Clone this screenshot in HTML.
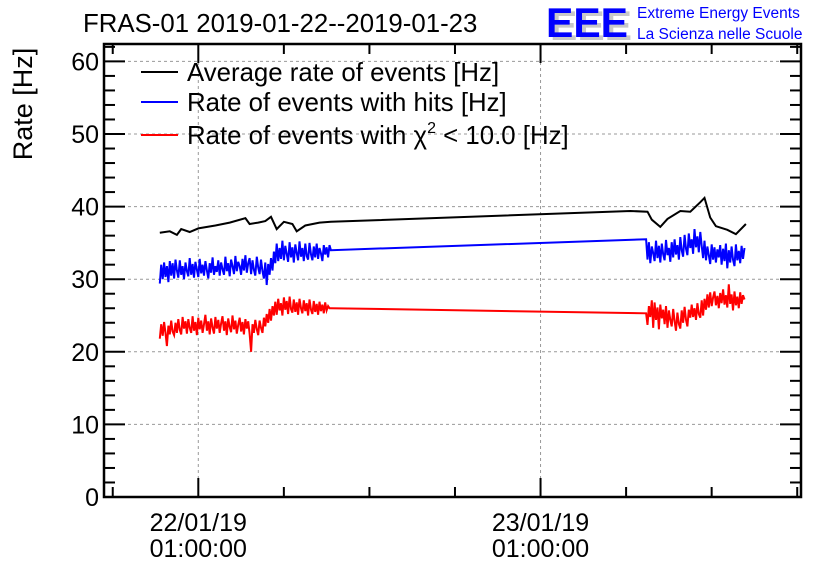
<!DOCTYPE html>
<html><head><meta charset="utf-8"><style>
body{margin:0;background:#fff;}
svg{display:block;font-family:"Liberation Sans",sans-serif;}
</style></head><body>
<svg id="chart" width="836" height="572" viewBox="0 0 836 572">
<rect width="836" height="572" fill="#fff"/>
<text x="83" y="32" font-size="25.8" fill="#000">FRAS-01 2019-01-22--2019-01-23</text>
<g>
<text x="550" y="40" font-size="42" font-weight="bold" fill="#c8c8c8" textLength="82" lengthAdjust="spacingAndGlyphs">EEE</text>
<text x="546" y="37" font-size="42" font-weight="bold" fill="#0000ff" textLength="82" lengthAdjust="spacingAndGlyphs">EEE</text>
<text x="637" y="18" font-size="15.5" fill="#0000ff">Extreme Energy Events</text>
<text x="637" y="39" font-size="15.5" fill="#0000ff">La Scienza nelle Scuole</text>
</g>
<text transform="translate(32,104) rotate(-90)" text-anchor="middle" font-size="27">Rate [Hz]</text>
<g id="grid"></g><g id="series"></g><g id="axes"></g>
<g font-size="25.8">
<line x1="141" y1="72" x2="178" y2="72" stroke="#000" stroke-width="2"/>
<text x="187" y="81">Average rate of events [Hz]</text>
<line x1="141" y1="102" x2="178" y2="102" stroke="#0000ff" stroke-width="2"/>
<text x="187" y="111">Rate of events with hits [Hz]</text>
<line x1="141" y1="135" x2="178" y2="135" stroke="#ff0000" stroke-width="2"/>
<text x="187" y="144">Rate of events with χ<tspan font-size="16" dy="-11">2</tspan><tspan dy="11"> &lt; 10.0 [Hz]</tspan></text>
</g>
</svg>
<script>
const yTicks=[0,10,20,30,40,50,60];
const xTickHours=[0,24];
const xTickDate=["22/01/19","23/01/19"];
const xTickTime=["01:00:00","01:00:00"];
const blackHours=[-2.7,-2.0,-1.5,-1.2,-0.6,0,1.2,2.2,3.3,3.6,4.2,4.7,5.1,5.5,6.0,6.6,6.9,7.5,8.5,9.3,30.3,31.5,31.8,32.4,32.9,33.8,34.5,35.2,35.5,35.9,36.3,37.1,37.7,38.4];
const blackVals=[36.4,36.6,36.1,36.9,36.5,37.0,37.4,37.8,38.4,37.6,37.8,38.0,38.6,36.9,37.9,37.6,36.6,37.4,37.8,37.9,39.4,39.3,38.2,37.2,38.3,39.4,39.3,40.6,41.2,38.5,37.3,36.8,36.2,37.6];
const seg1Start=-2.7, seg2Start=31.5, step=0.1;
const blue1=[29.4,32.0,30.0,32.3,30.3,31.8,29.6,32.5,30.5,32.2,30.1,32.7,31.2,30.2,32.6,30.6,31.8,30.0,32.3,31.1,30.4,32.9,30.6,32.1,30.2,32.4,31.3,30.3,32.8,30.8,32.0,30.5,32.5,31.2,30.1,32.2,30.9,33.0,30.6,31.8,31.0,32.6,30.5,32.3,31.4,30.6,33.1,31.1,32.2,30.4,32.7,31.8,30.7,33.2,31.1,32.4,31.8,30.6,32.8,31.2,33.3,30.9,32.2,32.9,30.7,32.6,31.3,30.5,33.1,31.6,30.7,32.7,31.1,30.1,32.3,29.2,32.1,30.6,32.9,31.2,33.8,32.2,34.9,32.5,34.3,32.8,35.3,32.6,34.6,33.5,32.4,35.1,33.0,34.4,32.3,34.8,33.6,32.6,35.2,33.1,34.3,32.5,34.9,33.2,32.7,35.0,33.4,32.6,34.5,33.0,34.9,32.8,34.3,33.6,32.5,34.7,33.4,34.4,33.0,34.7,34.0];
const blueGapVal=35.5, blueGapHour=31.4;
const blue2=[32.7,35.1,32.2,34.5,33.6,32.5,35.3,32.9,34.6,32.3,34.9,33.4,32.6,35.4,33.3,34.3,32.4,35.1,33.0,35.5,33.4,34.7,32.7,35.8,34.0,33.1,36.1,34.2,33.3,36.3,34.3,35.5,33.5,36.9,34.4,35.9,33.7,36.5,34.6,32.9,35.3,32.6,34.5,33.3,32.1,34.8,32.7,34.4,32.3,34.1,33.0,34.7,32.0,34.2,32.5,34.9,31.5,34.0,32.3,34.5,32.7,31.8,34.8,32.6,33.9,32.2,34.6,32.8,34.3];
const red1=[21.8,23.8,22.2,24.1,22.6,20.8,23.6,22.4,24.3,22.8,22.3,24.0,22.6,24.5,23.0,22.4,24.8,23.2,24.2,22.5,24.5,23.3,22.6,24.9,22.9,24.1,22.3,24.7,23.1,24.3,22.6,23.8,25.1,22.9,24.2,22.4,24.6,23.3,22.5,24.8,23.2,24.4,22.6,23.9,24.9,22.9,24.2,22.3,24.6,23.4,22.7,25.0,23.1,24.3,22.5,23.7,24.7,22.8,24.1,22.4,24.5,23.2,24.2,22.5,20.0,23.8,22.6,24.4,23.1,22.3,24.3,23.3,22.6,24.7,23.5,25.2,24.0,25.9,24.3,26.3,25.0,26.9,25.1,27.3,25.7,26.7,25.0,27.5,25.8,27.0,25.2,27.6,25.9,25.4,27.2,25.5,26.8,25.1,27.3,26.0,25.3,27.1,25.6,26.7,25.0,27.2,25.8,25.2,27.0,25.5,26.6,25.1,26.9,25.6,26.5,25.3,26.8,25.7,26.3,26.0,26.0];
const redGapVal=25.3, redGapHour=31.4;
const red2=[23.7,26.3,24.8,27.1,23.3,26.8,24.4,26.1,23.1,26.5,24.6,25.8,23.8,26.3,23.3,25.7,24.4,23.5,25.9,24.2,22.9,25.4,23.8,23.2,25.7,24.0,26.2,24.4,23.5,25.8,24.7,26.5,24.8,26.0,24.4,26.7,25.2,24.7,27.1,25.0,27.3,25.8,27.9,26.1,28.2,26.3,27.5,28.3,26.4,27.7,26.0,28.1,26.7,28.6,26.5,27.8,26.1,29.3,26.6,27.9,25.7,28.3,26.4,27.6,26.0,28.2,26.6,27.8,27.2];

const L=104,R=801,T=44,B=497;
const yMax=(B-T)/7.26;
function ys(v){return B-v*(B-T)/yMax;}
function xs(h){return 198.3+h*14.26;}
const NS="http://www.w3.org/2000/svg";
function mk(tag,attrs,parent){const e=document.createElementNS(NS,tag);for(const k in attrs)e.setAttribute(k,attrs[k]);parent.appendChild(e);return e;}
const grid=document.getElementById('grid'),series=document.getElementById('series'),axes=document.getElementById('axes');
yTicks.forEach(v=>{
  if(v>0){const g=mk('line',{x1:L,x2:R,y1:ys(v),y2:ys(v),stroke:'#999','stroke-dasharray':'3,3','stroke-width':1},grid);
  
  }
  const t=mk('text',{x:L-5,y:ys(v)+9,'text-anchor':'end','font-size':25},axes);t.textContent=v;
  
  
});
xTickHours.forEach((h,i)=>{
  const g=mk('line',{x1:xs(h),x2:xs(h),y1:T,y2:B,stroke:'#999','stroke-dasharray':'3,3','stroke-width':1},grid);
  
  
  const t1=mk('text',{x:xs(h),y:531,'text-anchor':'middle','font-size':25},axes);t1.textContent=xTickDate[i];
  
  
  const t2=mk('text',{x:xs(h),y:557,'text-anchor':'middle','font-size':25},axes);t2.textContent=xTickTime[i];
  
  
});
for(let v=0;v<=62;v+=2){const maj=v%10===0,len=maj?21:11;
  mk('line',{x1:L,x2:L+len,y1:ys(v),y2:ys(v),stroke:'#000','stroke-width':2},axes);
  mk('line',{x1:R-len,x2:R,y1:ys(v),y2:ys(v),stroke:'#000','stroke-width':2},axes);}
for(let h=-18;h<=42;h+=6){const x=xs(h);if(x<L||x>R)continue;const maj=(h%24===0),len=maj?19:10;
  mk('line',{x1:x,x2:x,y1:B-len,y2:B,stroke:'#000','stroke-width':2},axes);
  mk('line',{x1:x,x2:x,y1:T,y2:T+len,stroke:'#000','stroke-width':2},axes);}
const fr=mk('rect',{x:L,y:T,width:R-L,height:B-T,fill:'none',stroke:'#000','stroke-width':2.5},axes);



function build(a1,gapH,gapV,a2){
  const pts=[];
  a1.forEach((v,i)=>pts.push([seg1Start+i*step,v]));
  pts.push([gapH,gapV]);
  a2.forEach((v,i)=>pts.push([seg2Start+i*step,v]));
  return pts;
}
function draw(pts,color,name){
  const p=mk('polyline',{points:pts.map(q=>xs(q[0]).toFixed(1)+','+ys(q[1]).toFixed(1)).join(' '),fill:'none',stroke:color,'stroke-width':2,'stroke-linejoin':'miter'},series);
  
  
}
draw(build(red1,redGapHour,redGapVal,red2),'#ff0000','series-chi2-rate');
draw(build(blue1,blueGapHour,blueGapVal,blue2),'#0000ff','series-hits-rate');
draw(blackHours.map((h,i)=>[h,blackVals[i]]),'#000','series-average-rate');
</script>
</body></html>
